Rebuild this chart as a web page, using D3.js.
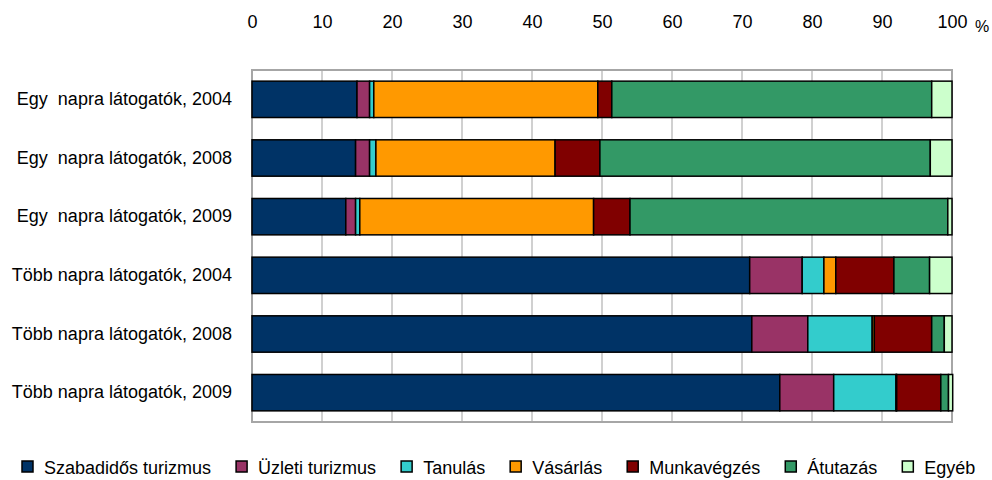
<!DOCTYPE html>
<html><head><meta charset="utf-8">
<script src="https://cdn.jsdelivr.net/npm/d3@7"></script>
<style>body{margin:0;background:#fff}svg{display:block;font-family:"Liberation Sans",Arial,sans-serif}</style>
</head><body><svg id="c" width="992" height="480"></svg>
<script>
const categories = ["Egy  napra látogatók, 2004","Egy  napra látogatók, 2008","Egy  napra látogatók, 2009","Több napra látogatók, 2004","Több napra látogatók, 2008","Több napra látogatók, 2009"];
const seriesNames = ["Szabadidős turizmus","Üzleti turizmus","Tanulás","Vásárlás","Munkavégzés","Átutazás","Egyéb"];
const seriesColors = ["#003366","#993366","#33CCCC","#FF9900","#800000","#339966","#CCFFCC"];
const szabadidos = [15.0,14.8,13.4,71.1,71.4,75.4];
const uzleti     = [1.8, 2.0, 1.4, 7.5, 8.0, 7.7];
const tanulas    = [0.6, 0.9, 0.6, 3.1, 9.2, 8.9];
const vasarlas   = [32.0,25.6,33.4,1.7, 0.3, 0.1];
const munka      = [2.0, 6.4, 5.2, 8.3, 8.2, 6.3];
const atutazas   = [45.7,47.2,45.4,5.1, 1.8, 1.1];
const egyeb      = [2.9, 3.1, 0.6, 3.2, 1.1, 0.6];
const tickValues = [0,10,20,30,40,50,60,70,80,90,100];

const series = [szabadidos,uzleti,tanulas,vasarlas,munka,atutazas,egyeb];
const svg = d3.select("#c");
const m = {left:252, right:952, top:70, bottom:422};
const x = d3.scaleLinear().domain([0,100]).range([m.left,m.right]);
const y = d3.scaleBand().domain(categories).range([m.top,m.bottom]).paddingInner(0.38).paddingOuter(0.19);

// gridlines
svg.append("g").selectAll("line").data(tickValues.filter(d=>d>0&&d<100)).join("line")
  .attr("x1",d=>x(d)).attr("x2",d=>x(d)).attr("y1",m.top).attr("y2",m.bottom)
  .attr("stroke","#c0c0c0").attr("stroke-width",1.5);
// plot border
svg.append("rect").attr("x",m.left).attr("y",m.top).attr("width",m.right-m.left).attr("height",m.bottom-m.top)
  .attr("fill","none").attr("stroke","#a6a6a6").attr("stroke-width",2);

// stacked bars
const rows = categories.map((c,i)=>{const o={cat:c}; seriesNames.forEach((s,j)=>o[s]=series[j][i]); return o;});
const stack = d3.stack().keys(seriesNames)(rows);
svg.append("g").selectAll("g").data(stack).join("g")
  .attr("fill",(d,i)=>seriesColors[i])
  .selectAll("rect").data(d=>d).join("rect")
  .attr("x",d=>x(d[0])).attr("width",d=>x(d[1])-x(d[0]))
  .attr("y",d=>y(d.data.cat)).attr("height",y.bandwidth())
  .attr("stroke","#000").attr("stroke-width",1.5);

// top axis
const xa = svg.append("g").attr("transform","translate(0,28)")
  .call(d3.axisTop(x).tickValues(tickValues).tickSize(0).tickPadding(0).tickFormat(d3.format("d")));
xa.select(".domain").remove();
xa.selectAll("text").attr("font-size",18).attr("fill","#000").attr("font-family","Liberation Sans, Arial, sans-serif");
svg.append("text").attr("x",x(100)+23).attr("y",32).attr("font-size",16).text("%");

// category labels
const ya = svg.append("g").attr("transform",`translate(${m.left},0)`)
  .call(d3.axisLeft(y).tickSize(0).tickPadding(20));
ya.select(".domain").remove();
ya.selectAll("text").attr("font-size",18).attr("fill","#000").attr("font-family","Liberation Sans, Arial, sans-serif")
  .style("white-space","pre");

// legend
const lg = svg.append("g");
let lx = 22;
seriesNames.forEach((s,i)=>{
  lg.append("rect").attr("x",lx).attr("y",461).attr("width",11).attr("height",11)
    .attr("fill",seriesColors[i]).attr("stroke","#000").attr("stroke-width",1.5);
  const t = lg.append("text").attr("x",lx+22).attr("y",474).attr("font-size",18).text(s);
  lx += 22 + t.node().getComputedTextLength() + 25;
});
</script></body></html>
